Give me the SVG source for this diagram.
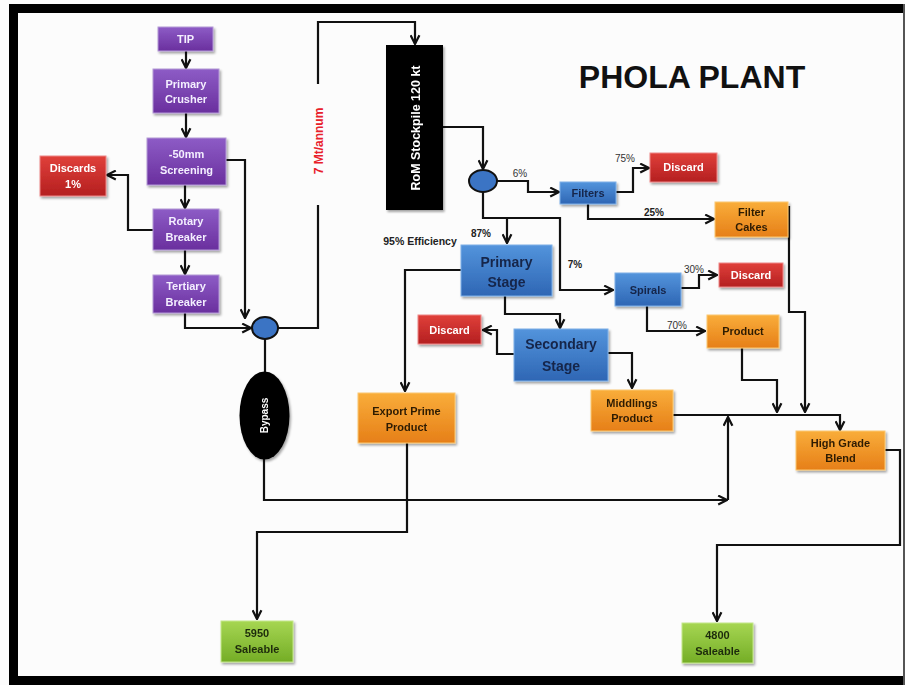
<svg xmlns="http://www.w3.org/2000/svg" width="905" height="685" viewBox="0 0 905 685">
<defs>
<linearGradient id="gPurple" x1="0" y1="0" x2="0" y2="1"><stop offset="0" stop-color="#8d5cc6"/><stop offset="1" stop-color="#6a2f9e"/></linearGradient>
<linearGradient id="gRed" x1="0" y1="0" x2="0" y2="1"><stop offset="0" stop-color="#e0403a"/><stop offset="1" stop-color="#b41f20"/></linearGradient>
<linearGradient id="gBlue" x1="0" y1="0" x2="0" y2="1"><stop offset="0" stop-color="#5394dc"/><stop offset="1" stop-color="#2e66b4"/></linearGradient>
<linearGradient id="gOrange" x1="0" y1="0" x2="0" y2="1"><stop offset="0" stop-color="#f9ad3a"/><stop offset="1" stop-color="#e67f18"/></linearGradient>
<linearGradient id="gGreen" x1="0" y1="0" x2="0" y2="1"><stop offset="0" stop-color="#a6d652"/><stop offset="1" stop-color="#74ad26"/></linearGradient>
<filter id="sh" x="-20%" y="-20%" width="140%" height="150%"><feDropShadow dx="1.5" dy="2" stdDeviation="1.2" flood-color="#000" flood-opacity="0.35"/></filter>
<marker id="arr" viewBox="0 0 10 10" refX="9" refY="5" markerWidth="5" markerHeight="5" orient="auto" markerUnits="strokeWidth">
<path d="M1,1 L9,5 L1,9" fill="none" stroke="#111" stroke-width="2"/>
</marker>
<style>
.c{fill:none;stroke:#111;stroke-width:2.2;}
.ca{fill:none;stroke:#111;stroke-width:2.2;marker-end:url(#arr);}
.box{filter:url(#sh);}
.p{fill:url(#gPurple);stroke:#b49ad6;stroke-width:1;}
.r{fill:url(#gRed);stroke:#e88;stroke-width:1;}
.b{fill:url(#gBlue);stroke:#7fb0e8;stroke-width:1;}
.o{fill:url(#gOrange);stroke:#fbc870;stroke-width:1;}
.g{fill:url(#gGreen);stroke:#c4e78a;stroke-width:1;}
text{font-family:"Liberation Sans",Arial,sans-serif;font-weight:bold;text-anchor:middle;}
.tw{fill:#f4efff;font-size:11px;}
.tr{fill:#ffffff;font-size:11px;}
.tb{fill:#16254a;font-size:11px;}
.tbl{fill:#16254a;font-size:14px;}
.to{fill:#2e1c05;font-size:11px;}
.tg{fill:#1e2c0c;font-size:11px;}
.pc{fill:#222;font-size:10px;}
.pn{fill:#333;font-size:10px;font-weight:normal;}
</style>
</defs>
<rect x="0" y="0" width="905" height="685" fill="#fcfcfc"/>
<g id="frame" fill="#000">
<rect x="9" y="4" width="896" height="9"/>
<rect x="9" y="4" width="9" height="681"/>
<rect x="9" y="676" width="896" height="9"/>
<rect x="903" y="4" width="2" height="681" fill="#555"/>
</g>
<text x="692" y="88" style="font-size:32px;fill:#111;">PHOLA PLANT</text>

<g id="connectors">
<path class="ca" d="M186,51 V68"/>
<path class="ca" d="M186,113 V137"/>
<path class="ca" d="M185,185 V208"/>
<path class="ca" d="M185,250 V274"/>
<path class="ca" d="M153,230 H128 V175 H107"/>
<path class="ca" d="M226,160 H245 V318"/>
<path class="ca" d="M185,313 V328 H251"/>
<path class="c" d="M278,328 H318 V205"/>
<path class="ca" d="M318,84 V22 H415 V44"/>
<path class="ca" d="M443,127 H483 V169"/>
<path class="ca" d="M497,181 H528 V192 H559"/>
<path class="ca" d="M616,192 H633 V168 H649"/>
<path class="ca" d="M588,204 V219 H714"/>
<path class="ca" d="M483,192 V218 H560 V290 H613"/>
<path class="ca" d="M507,218 V243"/>
<path class="ca" d="M681,288 H699 V275 H717"/>
<path class="ca" d="M647,306 V331 H705"/>
<path class="ca" d="M461,270 H405 V391"/>
<path class="ca" d="M505,296 V314 H560 V328"/>
<path class="ca" d="M514,354 H497 V330 H483"/>
<path class="ca" d="M608,353 H632 V388"/>
<path class="c" d="M265,339 V372"/>
<path class="ca" d="M264,459 V500 H727"/>
<path class="ca" d="M728,500 V417"/>
<path class="ca" d="M673,415 H840 V430"/>
<path class="ca" d="M742,348 V380 H777 V412"/>
<path class="ca" d="M789,206 V312 H805 V412"/>
<path class="ca" d="M885,450 H900 V545 H717 V621"/>
<path class="ca" d="M407,443 V532 H257 V619"/>
</g>

<g id="labels">
<text x="319" y="141" transform="rotate(-90 319 141)" dy="4" style="font-size:12px;fill:#e8202a;">7 Mt/annum</text>
<text class="pn" x="520" y="177">6%</text>
<text class="pn" x="625" y="162">75%</text>
<text class="pc" x="654" y="216">25%</text>
<text class="pc" x="481" y="237">87%</text>
<text class="pc" x="575" y="268">7%</text>
<text class="pn" x="694" y="273">30%</text>
<text class="pn" x="677" y="329">70%</text>
<text class="pc" x="420" y="245" style="font-size:10.5px;">95% Efficiency</text>
</g>

<g id="tip" class="box"><rect class="p" x="158" y="27" width="55" height="24"/><text class="tw" x="185.5" y="43">TIP</text></g>
<g id="primary-crusher" class="box"><rect class="p" x="153" y="69" width="66" height="44"/><text class="tw" x="186" y="88">Primary</text><text class="tw" x="186" y="103">Crusher</text></g>
<g id="screening" class="box"><rect class="p" x="147" y="138" width="79" height="47"/><text class="tw" x="186.5" y="158">-50mm</text><text class="tw" x="186.5" y="174">Screening</text></g>
<g id="rotary-breaker" class="box"><rect class="p" x="153" y="209" width="66" height="41"/><text class="tw" x="186" y="225">Rotary</text><text class="tw" x="186" y="241">Breaker</text></g>
<g id="tertiary-breaker" class="box"><rect class="p" x="153" y="275" width="66" height="38"/><text class="tw" x="186" y="290">Tertiary</text><text class="tw" x="186" y="306">Breaker</text></g>
<g id="discards" class="box"><rect class="r" x="40" y="156" width="66" height="40"/><text class="tr" x="73" y="172">Discards</text><text class="tr" x="73" y="188">1%</text></g>
<g id="junction1"><ellipse cx="265" cy="328" rx="13" ry="11" fill="#3b74c4" stroke="#111" stroke-width="2"/></g>
<g id="rom-stockpile" class="box"><rect x="386" y="45" width="57" height="165" fill="#000"/><text x="415" y="128" dy="4.5" transform="rotate(-90 415 128)" style="font-size:12.5px;fill:#fff;">RoM Stockpile 120 kt</text></g>
<g id="junction2"><ellipse cx="483" cy="181" rx="14" ry="11" fill="#3b74c4" stroke="#111" stroke-width="2"/></g>
<g id="filters" class="box"><rect class="b" x="560" y="182" width="56" height="22"/><text class="tb" x="588" y="197">Filters</text></g>
<g id="discard-filters" class="box"><rect class="r" x="650" y="153" width="67" height="29"/><text class="tr" x="683.5" y="171">Discard</text></g>
<g id="filter-cakes" class="box"><rect class="o" x="715" y="202" width="73" height="35"/><text class="to" x="751.5" y="216">Filter</text><text class="to" x="751.5" y="231">Cakes</text></g>
<g id="spirals" class="box"><rect class="b" x="615" y="273" width="66" height="33"/><text class="tb" x="648" y="294">Spirals</text></g>
<g id="discard-spirals" class="box"><rect class="r" x="719" y="263" width="64" height="24"/><text class="tr" x="751" y="279">Discard</text></g>
<g id="product" class="box"><rect class="o" x="707" y="315" width="72" height="33"/><text class="to" x="743" y="335">Product</text></g>
<g id="primary-stage" class="box"><rect class="b" x="461" y="245" width="91" height="51"/><text class="tbl" x="506.5" y="267">Primary</text><text class="tbl" x="506.5" y="287">Stage</text></g>
<g id="secondary-stage" class="box"><rect class="b" x="514" y="329" width="94" height="52"/><text class="tbl" x="561" y="349">Secondary</text><text class="tbl" x="561" y="371">Stage</text></g>
<g id="discard-secondary" class="box"><rect class="r" x="418" y="315" width="63" height="29"/><text class="tr" x="449.5" y="334">Discard</text></g>
<g id="middlings" class="box"><rect class="o" x="591" y="390" width="82" height="41"/><text class="to" x="632" y="407">Middlings</text><text class="to" x="632" y="422">Product</text></g>
<g id="export-prime" class="box"><rect class="o" x="358" y="393" width="97" height="50"/><text class="to" x="406.5" y="415">Export Prime</text><text class="to" x="406.5" y="431">Product</text></g>
<g id="bypass" class="box"><ellipse cx="264.5" cy="415.5" rx="25" ry="44" fill="#000"/><text x="264.5" y="415.5" dy="3.5" transform="rotate(-90 264.5 415.5)" style="font-size:10px;fill:#fff;">Bypass</text></g>
<g id="high-grade-blend" class="box"><rect class="o" x="796" y="431" width="89" height="39"/><text class="to" x="840.5" y="447">High Grade</text><text class="to" x="840.5" y="462">Blend</text></g>
<g id="saleable-5950" class="box"><rect class="g" x="221" y="621" width="72" height="41"/><text class="tg" x="257" y="637">5950</text><text class="tg" x="257" y="653">Saleable</text></g>
<g id="saleable-4800" class="box"><rect class="g" x="682" y="623" width="71" height="40"/><text class="tg" x="717.5" y="639">4800</text><text class="tg" x="717.5" y="655">Saleable</text></g>
</svg>
